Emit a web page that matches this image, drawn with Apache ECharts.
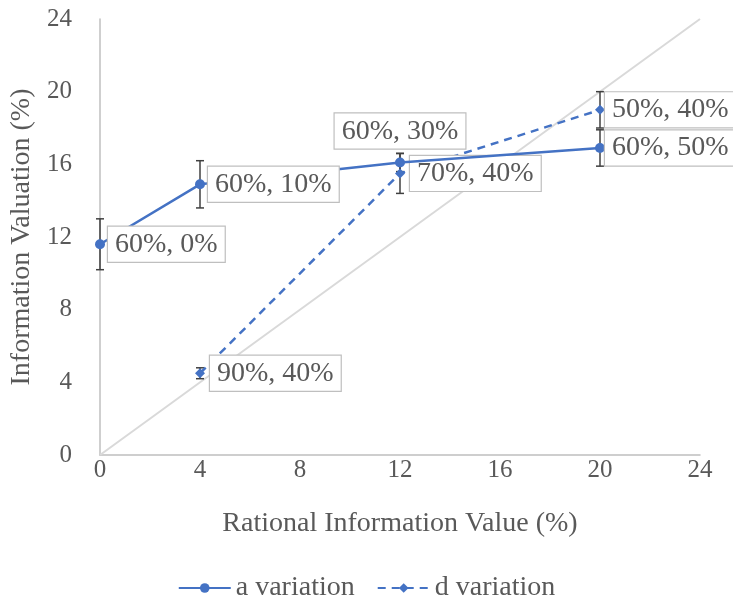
<!DOCTYPE html>
<html><head><meta charset="utf-8">
<script src="https://cdn.jsdelivr.net/npm/echarts@6/dist/echarts.min.js"></script>
<style>html,body{margin:0;padding:0;background:#fff}#c{width:733px;height:603px}</style>
</head><body><div id="c"></div>
<script>
var xTicks = [0, 4, 8, 12, 16, 20, 24];
var aX = [0, 4, 12, 20];
var aY = [11.6, 14.9, 16.1, 16.9];
var aErr = [1.4, 1.3, 0.5, 1.0];
var aLabels = ['60%, 0%', '60%, 10%', '60%, 30%', '60%, 50%'];
var dX = [4, 12, 20];
var dY = [4.5, 15.5, 19.0];
var dErr = [0.3, 1.1, 1.0];
var dLabels = ['90%, 40%', '70%, 40%', '50%, 40%'];
var diag = [[0, 0], [24, 24]];

var FONT = '"Liberation Serif", "DejaVu Serif", serif';
var TXT = '#595959';
var BLUE = '#4472c4';

function errData(xs, ys, es) {
  return xs.map(function (x, i) { return [x, ys[i] - es[i], ys[i] + es[i]]; });
}
function errRender(params, api) {
  var x = api.value(0);
  var lo = api.coord([x, api.value(1)]);
  var hi = api.coord([x, api.value(2)]);
  var w = 4;
  var st = { stroke: '#404040', lineWidth: 1.5 };
  return { type: 'group', children: [
    { type: 'line', shape: { x1: lo[0], y1: lo[1], x2: hi[0], y2: hi[1] }, style: st },
    { type: 'line', shape: { x1: lo[0] - w, y1: lo[1], x2: lo[0] + w, y2: lo[1] }, style: st },
    { type: 'line', shape: { x1: hi[0] - w, y1: hi[1], x2: hi[0] + w, y2: hi[1] }, style: st }
  ]};
}
var labelBase = {
  show: true, color: TXT, fontFamily: FONT, fontSize: 28, lineHeight: 30,
  backgroundColor: '#fff', borderColor: '#bfbfbf', borderWidth: 1.2,
  padding: [3, 7, 2, 7]
};
function mk(xs, ys, labs, special) {
  return xs.map(function (x, i) {
    var it = { value: [x, ys[i]], label: Object.assign({}, labelBase, { formatter: labs[i], position: 'right', distance: 3 }) };
    if (special && special[i]) Object.assign(it.label, special[i]);
    return it;
  });
}

var chart = echarts.init(document.getElementById('c'));
chart.setOption({
  animation: false,
  textStyle: { fontFamily: FONT },
  grid: { left: 100, right: 33, top: 19, bottom: 148 },
  xAxis: {
    type: 'value', min: 0, max: 24, interval: 4,
    name: 'Rational Information Value (%)', nameLocation: 'middle', nameGap: 55,
    nameTextStyle: { color: TXT, fontSize: 28, fontFamily: FONT },
    axisLine: { lineStyle: { color: '#bfbfbf', width: 1.5 } },
    axisTick: { show: false },
    splitLine: { show: false },
    axisLabel: { color: TXT, fontSize: 25, fontFamily: FONT, margin: 3 }
  },
  yAxis: {
    type: 'value', min: 0, max: 24, interval: 4,
    name: 'Information Valuation (%)', nameLocation: 'middle', nameGap: 60,
    nameTextStyle: { color: TXT, fontSize: 28, fontFamily: FONT },
    axisLine: { show: true, lineStyle: { color: '#bfbfbf', width: 1.5 } },
    axisTick: { show: false },
    splitLine: { show: false },
    axisLabel: { color: TXT, fontSize: 25, fontFamily: FONT, margin: 28 }
  },
  legend: {
    bottom: -4, left: 'center', itemWidth: 52, itemHeight: 12, itemGap: 22,
    textStyle: { color: TXT, fontSize: 28, fontFamily: FONT },
    data: ['a variation', 'd variation']
  },
  series: [
    { type: 'line', data: diag, symbol: 'none', silent: true,
      lineStyle: { color: '#d9d9d9', width: 2 }, z: 1 },
    { type: 'custom', renderItem: errRender, data: errData(aX, aY, aErr), z: 3, silent: true },
    { type: 'custom', renderItem: errRender, data: errData(dX, dY, dErr), z: 3, silent: true },
    { name: 'a variation', type: 'line', symbol: 'circle', symbolSize: 10,
      itemStyle: { color: BLUE }, lineStyle: { color: BLUE, width: 2.5 }, z: 5,
      data: mk(aX, aY, aLabels, { 2: { position: 'top', distance: 9 }, 3: { distance: 0 } }) },
    { name: 'd variation', type: 'line', symbol: 'diamond', symbolSize: 10,
      itemStyle: { color: BLUE }, lineStyle: { color: BLUE, width: 2.5, type: [8, 6] }, z: 4,
      data: mk(dX, dY, dLabels, { 0: { distance: 5 }, 1: { distance: 5 }, 2: { distance: 0 } }) }
  ]
});
</script></body></html>
